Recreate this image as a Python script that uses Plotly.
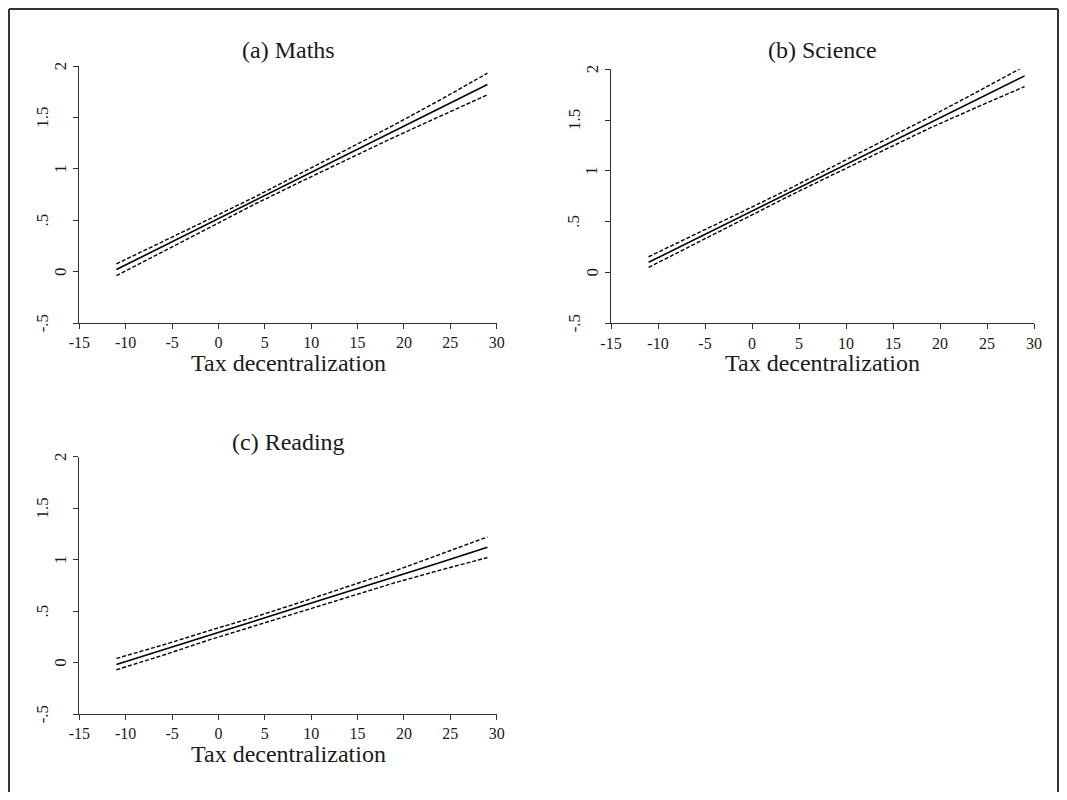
import plotly.graph_objects as go

# ---------------- data ----------------
tax_x = [-11, -6, -1, 4, 9, 14, 19, 24, 29]

maths_est = [0.02, 0.245, 0.47, 0.695, 0.92, 1.145, 1.37, 1.595, 1.82]
maths_hi = [0.075, 0.29, 0.51, 0.73, 0.96, 1.195, 1.43, 1.675, 1.93]
maths_lo = [-0.04, 0.195, 0.43, 0.66, 0.88, 1.095, 1.31, 1.515, 1.72]

science_est = [0.10, 0.33, 0.56, 0.79, 1.02, 1.25, 1.48, 1.705, 1.935]
science_hi = [0.155, 0.375, 0.60, 0.825, 1.06, 1.295, 1.535, 1.78, 2.03]
science_lo = [0.05, 0.285, 0.52, 0.755, 0.98, 1.205, 1.425, 1.63, 1.83]

reading_est = [-0.02, 0.12, 0.265, 0.405, 0.55, 0.69, 0.835, 0.975, 1.12]
reading_hi = [0.04, 0.17, 0.31, 0.445, 0.59, 0.74, 0.89, 1.055, 1.22]
reading_lo = [-0.07, 0.07, 0.22, 0.36, 0.50, 0.64, 0.775, 0.90, 1.02]

panel_titles = ["(a) Maths", "(b) Science", "(c) Reading"]
x_title = "Tax decentralization"
x_tick_vals = [-15, -10, -5, 0, 5, 10, 15, 20, 25, 30]
x_tick_text = ["-15", "-10", "-5", "0", "5", "10", "15", "20", "25", "30"]
y_tick_vals = [-0.5, 0, 0.5, 1, 1.5, 2]
y_tick_text = ["-.5", "0", ".5", "1", "1.5", "2"]

# ---------------- layout geometry ----------------
# The page body has an 8px default margin on every side, so the figure is
# sized to fit inside the 1067x800 window without scrollbars and window pixel
# positions are converted to paper fractions accordingly.
OFF = 8
W, H = 1067 - 2 * OFF, 800 - 2 * OFF


def fx(px):
    return (px - OFF) / W


def fy(py):
    return 1 - (py - OFF) / H


FONT = "Liberation Serif, Times New Roman, serif"
INK = "#1a1a1a"
# (left, right, top, bottom) of each plotting region in window pixels
panels = [
    (79.3, 496.7, 66.0, 323.0),
    (611.0, 1034.0, 69.3, 323.3),
    (79.3, 496.7, 456.7, 714.0),
]
title_y = [50, 50, 441.7]
xlabel_y = [363, 363, 754]

series = [
    (maths_est, maths_hi, maths_lo),
    (science_est, science_hi, science_lo),
    (reading_est, reading_hi, reading_lo),
]

fig = go.Figure()
annotations = []

for i, ((l, r, t, b), (est, hi, lo)) in enumerate(zip(panels, series)):
    k = "" if i == 0 else str(i + 1)
    xa, ya = "x" + k, "y" + k
    for vals, dash, width in ((hi, "4px,2px", 1.4), (est, "solid", 1.6), (lo, "4px,2px", 1.4)):
        fig.add_trace(go.Scatter(
            x=tax_x, y=vals, mode="lines", xaxis=xa, yaxis=ya,
            line=dict(color="black", width=width, dash=dash),
            showlegend=False, hoverinfo="skip"))

    axis_common = dict(showline=True, linecolor="#333", linewidth=1, ticks="outside",
                       ticklen=5, tickwidth=1, tickcolor="#333", showgrid=False,
                       zeroline=False, mirror=False, fixedrange=True, automargin=False)
    fig.layout["xaxis" + k] = dict(
        domain=[fx(l), fx(r)], range=[-15, 30], anchor=ya,
        tickvals=x_tick_vals, ticktext=x_tick_text,
        tickfont=dict(family=FONT, size=16, color=INK), ticklabelstandoff=0,
        **axis_common)
    fig.layout["yaxis" + k] = dict(
        domain=[fy(b), fy(t)], range=[-0.5, 2], anchor=xa,
        tickvals=y_tick_vals, showticklabels=False, **axis_common)

    # vertical y tick labels (Stata-style placement)
    for v, txt in zip(y_tick_vals, y_tick_text):
        off = 19 if len(txt) == 1 else 37
        annotations.append(dict(
            x=fx(l - off), xref="paper", y=v, yref=ya, text=txt,
            textangle=-90, showarrow=False, xanchor="center", yanchor="middle",
            font=dict(family=FONT, size=17, color=INK)))

    annotations.append(dict(
        x=fx((l + r) / 2), xref="paper", y=fy(title_y[i]), yref="paper",
        text=panel_titles[i], showarrow=False, xanchor="center", yanchor="middle",
        font=dict(family=FONT, size=24, color=INK)))
    annotations.append(dict(
        x=fx((l + r) / 2), xref="paper", y=fy(xlabel_y[i]), yref="paper",
        text=x_title, showarrow=False, xanchor="center", yanchor="middle",
        font=dict(family=FONT, size=24, color=INK)))

# outer frame: left, top and right edges (bottom edge is cut off in the original)
frame = dict(type="line", xref="paper", yref="paper", line=dict(color="#333", width=2))
xl, xr, yt = 1 / W, 1 - 1 / W, 1 - 1 / H
shapes = [
    dict(frame, x0=xl, x1=xl, y0=0, y1=yt),
    dict(frame, x0=xl, x1=xr, y0=yt, y1=yt),
    dict(frame, x0=xr, x1=xr, y0=0, y1=yt),
]

fig.update_layout(
    width=W, height=H, autosize=False,
    margin=dict(l=0, r=0, t=0, b=0, pad=0, autoexpand=False),
    paper_bgcolor="white", plot_bgcolor="white",
    annotations=annotations,
    shapes=shapes,
)

fig.write_html("out.html")
